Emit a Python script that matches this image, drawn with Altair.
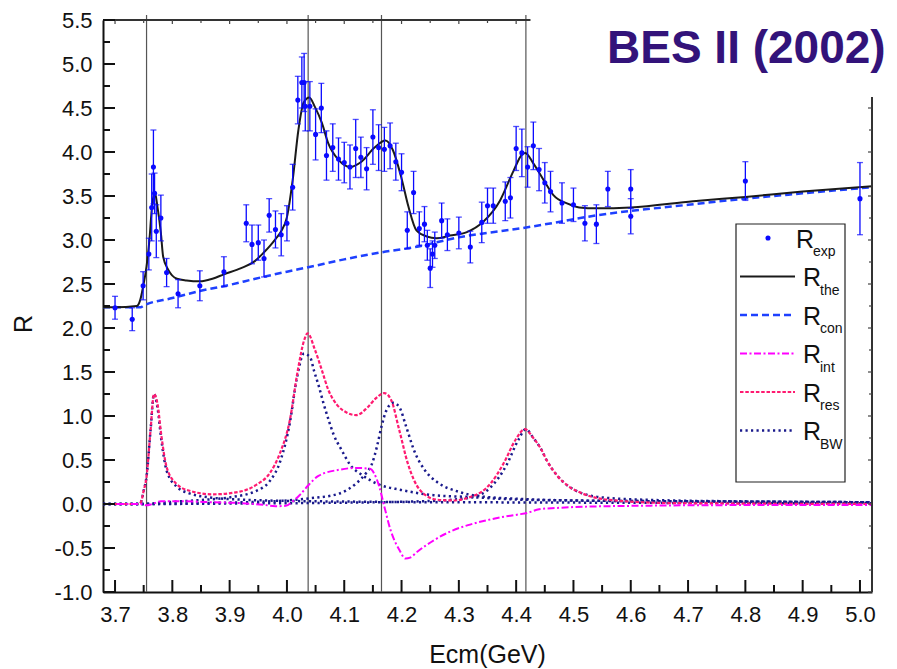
import altair as alt
import numpy as np
import pandas as pd

# ---------------- measured R (points with symmetric errors) ----------------
exp_e = [3.700, 3.730, 3.749, 3.759, 3.764, 3.767, 3.769, 3.772, 3.780, 3.790,
         3.810, 3.848, 3.890, 3.929, 3.939, 3.950, 3.960, 3.969, 3.980, 3.990,
         4.000, 4.010, 4.019, 4.026, 4.030, 4.032, 4.040, 4.050, 4.060, 4.069,
         4.080, 4.090, 4.100, 4.110, 4.120, 4.129, 4.139, 4.150, 4.160, 4.170,
         4.180, 4.190, 4.200, 4.210, 4.221, 4.231, 4.240, 4.245, 4.250, 4.254,
         4.258, 4.270, 4.280, 4.300, 4.320, 4.340, 4.350, 4.360, 4.381, 4.390,
         4.400, 4.410, 4.420, 4.430, 4.440, 4.450, 4.460, 4.480, 4.500, 4.520,
         4.540, 4.560, 4.600, 4.600, 4.800, 5.000]
exp_r = [2.23, 2.10, 2.48, 2.84, 3.37, 3.83, 3.53, 3.10, 3.25, 2.63,
         2.39, 2.48, 2.64, 3.19, 2.95, 2.97, 2.79, 3.28, 3.12, 3.06,
         3.19, 3.60, 4.59, 4.79, 4.79, 4.52, 4.52, 4.20, 4.50, 3.96,
         4.05, 3.92, 3.88, 3.83, 4.04, 3.94, 3.81, 4.17, 4.05, 4.03,
         4.07, 3.89, 3.77, 3.11, 3.54, 3.13, 3.18, 2.94, 2.68, 2.84,
         2.94, 3.22, 3.06, 3.08, 2.92, 3.20, 3.39, 3.39, 3.44, 3.48,
         4.04, 3.99, 3.83, 4.07, 3.80, 3.65, 3.55, 3.42, 3.40, 3.19,
         3.18, 3.58, 3.58, 3.27, 3.67, 3.47]
exp_err = [0.13, 0.13, 0.16, 0.18, 0.38, 0.42, 0.23, 0.30, 0.26, 0.16,
           0.16, 0.17, 0.17, 0.21, 0.22, 0.20, 0.21, 0.19, 0.21, 0.24,
           0.20, 0.26, 0.27, 0.29, 0.33, 0.28, 0.28, 0.29, 0.28, 0.28,
           0.27, 0.24, 0.23, 0.25, 0.33, 0.23, 0.24, 0.31, 0.26, 0.25,
           0.26, 0.21, 0.21, 0.21, 0.24, 0.19, 0.20, 0.17, 0.22, 0.15,
           0.15, 0.20, 0.18, 0.18, 0.18, 0.23, 0.20, 0.20, 0.22, 0.23,
           0.25, 0.27, 0.23, 0.27, 0.24, 0.23, 0.23, 0.23, 0.19, 0.20,
           0.22, 0.20, 0.22, 0.20, 0.22, 0.41]

# ---------------- fitted curves ----------------
the_e = [3.679, 3.700, 3.738, 3.744, 3.749, 3.755, 3.760, 3.764, 3.769, 3.774,
         3.780, 3.784, 3.793, 3.808, 3.825, 3.848, 3.870, 3.890, 3.920, 3.944,
         3.960, 3.970, 3.980, 3.990, 4.000, 4.010, 4.020, 4.029, 4.039, 4.049,
         4.061, 4.072, 4.090, 4.110, 4.130, 4.153, 4.172, 4.185, 4.200, 4.212,
         4.226, 4.244, 4.261, 4.284, 4.314, 4.343, 4.372, 4.395, 4.410, 4.416,
         4.430, 4.448, 4.465, 4.491, 4.510, 4.540, 4.600, 4.709, 4.800, 4.900,
         5.021]
the_r = [2.235, 2.235, 2.25, 2.32, 2.47, 2.70, 3.00, 3.34, 3.55, 3.38,
         3.08, 2.81, 2.66, 2.56, 2.54, 2.53, 2.56, 2.61, 2.68, 2.76,
         2.86, 2.93, 3.01, 3.10, 3.26, 3.68, 4.25, 4.56, 4.62, 4.51,
         4.33, 4.10, 3.91, 3.83, 3.89, 4.05, 4.13, 4.02, 3.70, 3.38,
         3.11, 3.04, 3.02, 3.05, 3.09, 3.21, 3.45, 3.78, 3.97, 3.99,
         3.87, 3.68, 3.51, 3.41, 3.37, 3.36, 3.37, 3.44, 3.49, 3.55,
         3.61]

con_e = [3.679, 3.745, 3.749, 3.800, 3.848, 3.900, 3.945, 4.000, 4.037, 4.100,
         4.165, 4.224, 4.300, 4.415, 4.479, 4.540, 4.600, 4.700, 4.800, 4.900,
         5.021]
con_r = [2.235, 2.235, 2.25, 2.34, 2.42, 2.49, 2.56, 2.64, 2.69, 2.78,
         2.86, 2.92, 3.03, 3.14, 3.21, 3.28, 3.33, 3.40, 3.47, 3.53,
         3.60]

int_e = [3.679, 3.745, 3.755, 3.765, 3.780, 3.820, 3.870, 3.920, 3.960, 3.980,
         3.998, 4.010, 4.022, 4.037, 4.055, 4.092, 4.120, 4.145, 4.152, 4.161,
         4.170, 4.181, 4.196, 4.207, 4.215, 4.228, 4.257, 4.286, 4.316, 4.345,
         4.374, 4.403, 4.420, 4.440, 4.470, 4.500, 4.616, 4.800, 5.021]
int_r = [0.0, 0.0, -0.015, 0.0, 0.03, 0.03, 0.02, 0.01, -0.01, -0.025,
         -0.02, 0.03, 0.10, 0.21, 0.32, 0.39, 0.41, 0.40, 0.35, 0.20,
         -0.03, -0.30, -0.52, -0.62, -0.61, -0.54, -0.41, -0.31, -0.24, -0.19,
         -0.15, -0.12, -0.10, -0.06, -0.045, -0.035, -0.02, -0.012, -0.01]

res_e = [3.679, 3.740, 3.745, 3.750, 3.755, 3.762, 3.768, 3.774, 3.781, 3.790,
         3.807, 3.830, 3.871, 3.918, 3.947, 3.970, 3.988, 4.005, 4.019, 4.030,
         4.036, 4.049, 4.061, 4.072, 4.087, 4.104, 4.121, 4.141, 4.155, 4.170,
         4.182, 4.196, 4.211, 4.232, 4.261, 4.290, 4.320, 4.340, 4.355, 4.378,
         4.399, 4.415, 4.430, 4.443, 4.453, 4.472, 4.494, 4.512, 4.558, 4.674,
         5.021]
res_r = [0.0, 0.0, 0.02, 0.15, 0.31, 0.84, 1.25, 1.14, 0.77, 0.42,
         0.23, 0.15, 0.11, 0.14, 0.22, 0.35, 0.58, 0.95, 1.52, 1.86,
         1.94, 1.75, 1.52, 1.30, 1.13, 1.04, 1.01, 1.10, 1.20, 1.26,
         1.18, 0.84, 0.46, 0.16, 0.05, 0.04, 0.08, 0.14, 0.23, 0.46,
         0.73, 0.85, 0.75, 0.63, 0.50, 0.32, 0.19, 0.13, 0.05, 0.01,
         0.0]

# individual Breit-Wigner terms
bw1_e = [3.679, 3.740, 3.745, 3.750, 3.755, 3.762, 3.768, 3.774, 3.781, 3.790,
         3.807, 3.830, 3.871, 3.920, 4.000, 4.100, 4.200, 4.400, 4.700, 5.021]
bw1_r = [0.0, 0.0, 0.02, 0.15, 0.31, 0.84, 1.25, 1.10, 0.72, 0.38,
         0.20, 0.12, 0.07, 0.05, 0.035, 0.028, 0.022, 0.018, 0.012, 0.008]
bw2_e = [3.679, 3.745, 3.800, 3.850, 3.900, 3.947, 3.970, 3.988, 4.005, 4.017,
         4.030, 4.041, 4.047, 4.056, 4.064, 4.073, 4.082, 4.094, 4.111, 4.131,
         4.161, 4.199, 4.256, 4.316, 4.403, 4.500, 4.700, 5.021]
bw2_r = [0.0, 0.0, 0.025, 0.045, 0.075, 0.15, 0.26, 0.48, 0.92, 1.42,
         1.71, 1.66, 1.52, 1.33, 1.14, 0.95, 0.78, 0.63, 0.44, 0.33,
         0.22, 0.16, 0.10, 0.08, 0.05, 0.04, 0.03, 0.02]
bw3_e = [3.679, 3.745, 3.850, 3.950, 4.000, 4.041, 4.092, 4.121, 4.138, 4.148,
         4.157, 4.165, 4.174, 4.186, 4.197, 4.208, 4.223, 4.240, 4.264, 4.299,
         4.334, 4.400, 4.500, 4.700, 5.021]
bw3_r = [0.0, 0.0, 0.01, 0.025, 0.04, 0.065, 0.12, 0.235, 0.35, 0.45,
         0.65, 0.88, 1.07, 1.15, 1.09, 0.88, 0.59, 0.39, 0.24, 0.14,
         0.09, 0.06, 0.04, 0.03, 0.02]
bw4_e = [3.679, 3.745, 3.900, 4.100, 4.200, 4.280, 4.325, 4.354, 4.383, 4.404,
         4.417, 4.430, 4.443, 4.453, 4.472, 4.494, 4.512, 4.558, 4.674, 4.800,
         5.021]
bw4_r = [0.0, 0.0, 0.005, 0.015, 0.025, 0.045, 0.08, 0.18, 0.44, 0.73,
         0.85, 0.75, 0.63, 0.50, 0.32, 0.19, 0.13, 0.07, 0.04, 0.03,
         0.02]

# resonance masses marked by vertical lines
mass_lines = [3.755, 4.037, 4.165, 4.417]

# axis ticks
x_major = [round(v, 2) for v in np.arange(3.7, 5.001, 0.1)]
x_minor = [round(v, 2) for v in np.arange(3.75, 4.951, 0.1)]
y_major = [round(v, 2) for v in np.arange(-1.0, 5.501, 0.5)]
y_minor = [round(v, 2) for v in np.arange(-0.75, 5.251, 0.5)]

# ---------------- layout / style ----------------
W, H = 769, 572
X_DOM = [3.679, 5.021]
Y_DOM = [-1.0, 5.5]
FONT = "Liberation Sans"
INK = "#111111"

C_EXP = "#0a0aff"
C_THE = "#1a1a1a"
C_CON = "#1e40ff"
C_INT = "#ff00ff"
C_RES = "#ff1a70"
C_BW = "#1a1a8c"

D_CON = [7, 4]
D_INT = [7, 2.5, 2, 2.5]
D_RES = [3.5, 1.8]
D_BW = [2.2, 3.3]

xs = alt.Scale(domain=X_DOM, nice=False, zero=False)
ys = alt.Scale(domain=Y_DOM, nice=False, zero=False)

x_axis = alt.Axis(values=x_major, labelExpr="format(datum.value, '.1f')",
                  ticks=False, tickSize=0, grid=False, domainColor=INK, domainWidth=2,
                  labelFont=FONT, labelFontSize=22, labelColor=INK, labelPadding=12,
                  title=None, labelFlush=False)
y_axis = alt.Axis(values=y_major,
                  labelExpr="datum.value < 0 ? '-' + format(-datum.value, '.1f') : format(datum.value, '.1f')",
                  ticks=False, tickSize=0, grid=False, domainColor=INK, domainWidth=2,
                  labelFont=FONT, labelFontSize=22, labelColor=INK, labelPadding=11,
                  title=None, labelFlush=False)


def X(f):
    return alt.X(f, type="quantitative", scale=xs, axis=x_axis)


def Y(f):
    return alt.Y(f, type="quantitative", scale=ys, axis=y_axis)


def curve(e, r, color, dash, width):
    df = pd.DataFrame({"e": e, "r": r})
    kw = dict(color=color, strokeWidth=width, interpolate="monotone")
    if dash:
        kw["strokeDash"] = dash
    return alt.Chart(df).mark_line(**kw).encode(x=X("e"), y=Y("r"), order="e:Q")


one = pd.DataFrame({"k": [0]})

# frame lines (top and right); the top-right corner is left open for the title
frame_df = pd.DataFrame({"x": [3.679, 5.021], "x2": [4.425, 5.021],
                         "y": [5.5, -1.0], "y2": [5.5, 4.625]})
frame = alt.Chart(frame_df).mark_rule(color="#333333", strokeWidth=2).encode(
    x=X("x"), x2="x2", y=Y("y"), y2="y2")

# inward ticks
tick_layers = []
for vals, ln in [(x_major, 12), (x_minor, 7)]:
    d = pd.DataFrame({"t": vals})
    tick_layers.append(alt.Chart(d).mark_rule(color=INK, strokeWidth=2).encode(
        x=X("t"), y=alt.value(H), y2=alt.value(H - ln)))
    dt = d[d.t <= 4.42]
    tick_layers.append(alt.Chart(dt).mark_rule(color="#444444", strokeWidth=1.2).encode(
        x=X("t"), y=alt.value(0), y2=alt.value(4 if ln == 12 else 3)))
for vals, ln in [(y_major, 12), (y_minor, 7)]:
    d = pd.DataFrame({"t": vals})
    tick_layers.append(alt.Chart(d).mark_rule(color=INK, strokeWidth=2).encode(
        y=Y("t"), x=alt.value(0), x2=alt.value(ln)))
    dr = d[d.t <= 4.6]
    tick_layers.append(alt.Chart(dr).mark_rule(color="#444444", strokeWidth=1.2).encode(
        y=Y("t"), x=alt.value(W), x2=alt.value(W - (4 if ln == 12 else 3))))

vlines = alt.Chart(pd.DataFrame({"m": mass_lines})).mark_rule(
    color="#555555", strokeWidth=1.2).encode(x=X("m"), y=alt.value(-5), y2=alt.value(H))

bw_layers = [curve(e, r, C_BW, D_BW, 2.5) for e, r in
             [(bw1_e, bw1_r), (bw2_e, bw2_r), (bw3_e, bw3_r), (bw4_e, bw4_r)]]
res_line = curve(res_e, res_r, C_RES, D_RES, 2.2)
int_line = curve(int_e, int_r, C_INT, D_INT, 2.0)
con_line = curve(con_e, con_r, C_CON, D_CON, 2.5)
the_line = curve(the_e, the_r, C_THE, None, 2.0)

exp_df = pd.DataFrame({"e": exp_e, "r": exp_r, "err": exp_err})
exp_df["lo"] = exp_df.r - exp_df.err
exp_df["hi"] = exp_df.r + exp_df.err
bars = alt.Chart(exp_df).mark_rule(color=C_EXP, strokeWidth=1.3).encode(
    x=X("e"), y=Y("lo"), y2="hi")
cap_lo = alt.Chart(exp_df).mark_tick(color=C_EXP, orient="horizontal", size=6, thickness=1.3).encode(
    x=X("e"), y=Y("lo"))
cap_hi = alt.Chart(exp_df).mark_tick(color=C_EXP, orient="horizontal", size=6, thickness=1.3).encode(
    x=X("e"), y=Y("hi"))
pts = alt.Chart(exp_df).mark_circle(color=C_EXP, size=26, opacity=1).encode(x=X("e"), y=Y("r"))

# ---------------- key ----------------
key_layers = [alt.Chart(one).mark_rect(fill="white", stroke="#222222", strokeWidth=1.2).encode(
    x=alt.value(633), x2=alt.value(742), y=alt.value(204), y2=alt.value(462))]
rows = [("exp", None, None, None), ("the", C_THE, None, 2.0), ("con", C_CON, D_CON, 2.5),
        ("int", C_INT, D_INT, 2.0), ("res", C_RES, D_RES, 2.2), ("BW", C_BW, D_BW, 2.5)]
for i, (sub, col, dash, wd) in enumerate(rows):
    cy = 218 + 38.5 * i
    if col is None:
        key_layers.append(alt.Chart(one).mark_circle(color=C_EXP, size=26, opacity=1).encode(
            x=alt.value(665), y=alt.value(cy)))
        rx = 693
    else:
        kw = dict(color=col, strokeWidth=wd)
        if dash:
            kw["strokeDash"] = dash
        key_layers.append(alt.Chart(one).mark_rule(**kw).encode(
            x=alt.value(637), x2=alt.value(692), y=alt.value(cy)))
        rx = 700
    key_layers.append(alt.Chart(one).mark_text(
        align="left", baseline="alphabetic", font=FONT, fontSize=25, color=INK).encode(
        x=alt.value(rx), y=alt.value(cy + 9.5), text=alt.value("R")))
    key_layers.append(alt.Chart(one).mark_text(
        align="left", baseline="alphabetic", font=FONT, fontSize=14, color=INK).encode(
        x=alt.value(rx + 17), y=alt.value(cy + 18), text=alt.value(sub)))

# ---------------- titles ----------------
heading = alt.Chart(one).mark_text(
    align="left", baseline="alphabetic", font=FONT, fontSize=46, fontWeight="bold",
    color="#33137a").encode(x=alt.value(504), y=alt.value(43), text=alt.value("BES II (2002)"))
xtitle = alt.Chart(one).mark_text(
    align="center", baseline="alphabetic", font=FONT, fontSize=25, color=INK).encode(
    x=alt.value(384.5), y=alt.value(643), text=alt.value("Ecm(GeV)"))
ytitle = alt.Chart(one).mark_text(
    align="center", baseline="middle", font=FONT, fontSize=25, color=INK, angle=270).encode(
    x=alt.value(-79), y=alt.value(304), text=alt.value("R"))

chart = alt.layer(
    vlines, *bw_layers, res_line, int_line, con_line, the_line,
    bars, cap_lo, cap_hi, pts, frame, *tick_layers, *key_layers,
    heading, xtitle, ytitle,
).properties(
    width=W, height=H,
    autosize=alt.AutoSizeParams(type="none"),
    padding={"left": 103, "top": 20, "right": 25, "bottom": 77},
    background="white",
).configure_view(stroke=None)

chart.save("out.html", embed_options={"renderer": "svg", "actions": False})
